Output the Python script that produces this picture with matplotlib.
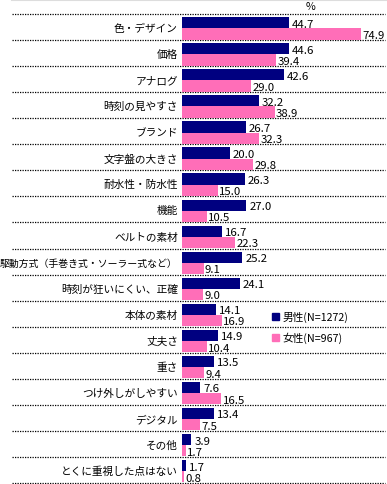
import matplotlib
matplotlib.use("Agg")
import matplotlib.pyplot as plt
from matplotlib.patches import Patch
from matplotlib.lines import Line2D
import numpy as np

plt.rcParams['font.family'] = ['Noto Sans CJK JP', 'DejaVu Sans']

# data (%)
categories = ["色・デザイン", "価格", "アナログ", "時刻の見やすさ", "ブランド", "文字盤の大きさ",
              "耐水性・防水性", "機能", "ベルトの素材", "駆動方式（手巻き式・ソーラー式など）",
              "時刻が狂いにくい、正確", "本体の素材", "丈夫さ", "重さ", "つけ外しがしやすい",
              "デジタル", "その他", "とくに重視した点はない"]
male = [44.7, 44.6, 42.6, 32.2, 26.7, 20.0, 26.3, 27.0, 16.7, 25.2,
        24.1, 14.1, 14.9, 13.5, 7.6, 13.4, 3.9, 1.7]
female = [74.9, 39.4, 29.0, 38.9, 32.3, 29.8, 15.0, 10.5, 22.3, 9.1,
          9.0, 16.9, 10.4, 9.4, 16.5, 7.5, 1.7, 0.8]
series_names = ["男性(N=1272)", "女性(N=967)"]

navy = "#000080"
pink = "#FF6EB8"

W, H = 387, 485
fig = plt.figure(figsize=(W / 100, H / 100), dpi=100)
# axes: x from 182 to 385 px, y from 15 to 484 px
ax = fig.add_axes([182 / W, 1 - 484 / H, (385 - 182) / W, (484 - 15) / H])

y = np.arange(len(categories))
h = 0.43
ax.barh(y - 0.165, male, height=h, color=navy, zorder=3)
ax.barh(y + 0.265, female, height=h, color=pink, zorder=3)

fs = 7.7
nfs = 8.2
for yi, m, f in zip(y, male, female):
    ax.annotate(f"{m:.1f}", (m, yi - 0.13), xytext=(2.2, 0), textcoords="offset points",
                va="center", ha="left", fontsize=nfs, zorder=4)
    ax.annotate(f"{f:.1f}", (f, yi + 0.30), xytext=(0.8, 0), textcoords="offset points",
                va="center", ha="left", fontsize=nfs, zorder=4)

ax.set_xlim(0, 85)
ax.set_ylim(len(categories) - 0.5, -0.5)
ax.set_yticks(y)
ax.set_yticklabels(categories, fontsize=fs)
ax.tick_params(axis="y", length=0, pad=3)
# the long label is squeezed so it fits in the margin like the original
for lab in ax.get_yticklabels():
    if len(lab.get_text()) > 14:
        lab.set_fontsize(7.1)
ax.set_xticks([])
for s in ax.spines.values():
    s.set_visible(False)

# dotted row separators, running under the labels too
trans = ax.get_yaxis_transform()
for b in np.arange(-0.5, len(categories), 1.0):
    ax.add_line(Line2D([-170 / 203, 1.0], [b, b], transform=trans, color="black",
                       lw=0.9, linestyle=(0, (1, 1)), clip_on=False, zorder=1))

# light top rule
fig.add_artist(Line2D([12 / W, 1], [1 - 1 / H, 1 - 1 / H], color="#DDDDDD", lw=1.5))

fig.text(311 / W, 1 - 7.5 / H, "%", ha="center", va="center", fontsize=fs)

handles = [Patch(color=navy), Patch(color=pink)]
ax.legend(handles, series_names, loc="upper left", bbox_to_anchor=(272 / W, 1 - 312 / H),
          bbox_transform=fig.transFigure, frameon=False, fontsize=fs,
          handlelength=0.7, handleheight=0.7, handletextpad=0.3, labelspacing=0.9,
          borderpad=0, borderaxespad=0)

fig.savefig("out.png", dpi=100)
